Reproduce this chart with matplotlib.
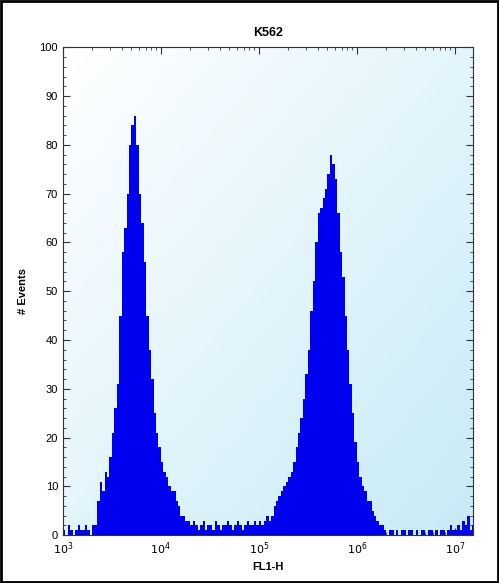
import numpy as np
import matplotlib
matplotlib.use("Agg")
import matplotlib.pyplot as plt
from matplotlib.patches import Rectangle

# event counts per bin, bins of 0.025 decade starting at 10^3
counts = [1, 0, 2, 1, 0, 1, 2, 1, 1, 2, 1, 0, 2, 2,
          7, 11, 9, 13, 12, 16, 21, 26, 31, 45, 58, 63, 70, 80, 84, 86,
          80, 70, 64, 56, 45, 38, 32, 25, 21, 18, 15, 13, 12, 10, 9, 9, 7, 6, 4, 4, 3, 3,
          2, 3, 2, 1, 2, 3, 1, 2, 2, 1, 3, 2, 1, 2, 2, 3, 2, 1, 2, 3, 2, 1, 2, 3, 2, 2, 3, 2,
          3, 2, 3, 4, 3, 4, 6, 7, 8, 9, 10, 11, 12, 13, 15, 18, 21, 24, 28, 33, 38, 46,
          52, 60, 66, 67, 69, 71, 74, 78, 76, 73, 66, 58, 53, 45, 38, 31, 25, 19, 15, 12,
          10, 9, 7, 7, 5, 4, 3, 2, 2,
          1, 0, 1, 1, 0, 1, 0, 1, 1, 0, 1, 1, 0, 1, 0, 1, 1, 0, 1, 1, 0, 1, 0, 1, 1, 0,
          1, 2, 1, 1, 2, 1, 3, 2, 4, 1, 2]
log_start = 3.0
bin_w = 0.025
xticks = [1e3, 1e4, 1e5, 1e6, 1e7]
xticklabels = ["$10^3$", "$10^4$", "$10^5$", "$10^6$", "$10^7$"]
yticks = list(range(0, 101, 10))

edges = 10 ** (log_start + bin_w * np.arange(len(counts) + 1))

plt.rcParams['font.family'] = ['Liberation Sans', 'DejaVu Sans']
fig = plt.figure(figsize=(4.99, 5.83), dpi=100)
ax = fig.add_axes([0.126, 0.082, 0.822, 0.837])

# light blue gradient background: white top-left, cyan bottom-right
gx, gy = np.meshgrid(np.linspace(0, 1, 200), np.linspace(0, 1, 200))
g = (gx + gy) / 2
c0 = np.array([1.0, 1.0, 1.0])
c1 = np.array([0.78, 0.92, 0.97])
img = c0[None, None, :] * (1 - g[..., None]) + c1[None, None, :] * g[..., None]
ax.imshow(img, extent=[0, 1, 0, 1], transform=ax.transAxes, aspect='auto', zorder=0, origin='upper')

ax.stairs(counts, edges, fill=True, color="#0000f0", zorder=2)

ax.set_xscale("log")
ax.set_xlim(1e3, 10 ** 7.186)
ax.set_ylim(0, 100)
ax.set_xticks(xticks)
ax.set_xticklabels(xticklabels)
ax.set_yticks(yticks)
ax.yaxis.set_minor_locator(matplotlib.ticker.MultipleLocator(2))
ax.tick_params(which="both", direction="in", top=True, right=True, labelsize=8, color="#333333")
ax.tick_params(which="major", length=5)
ax.tick_params(which="minor", length=2.5)
for s in ax.spines.values():
    s.set_color("#333333")

ax.set_title("K562", fontsize=9, fontweight="bold", pad=8)
ax.set_xlabel("FL1-H", fontsize=8, fontweight="bold", labelpad=4)
ax.set_ylabel("# Events", fontsize=8, fontweight="bold", labelpad=8)

fig.patches.append(Rectangle((0.002, 0.002), 0.996, 0.996, transform=fig.transFigure,
                             fill=False, edgecolor="black", linewidth=2))
fig.savefig("out.png", dpi=100)
